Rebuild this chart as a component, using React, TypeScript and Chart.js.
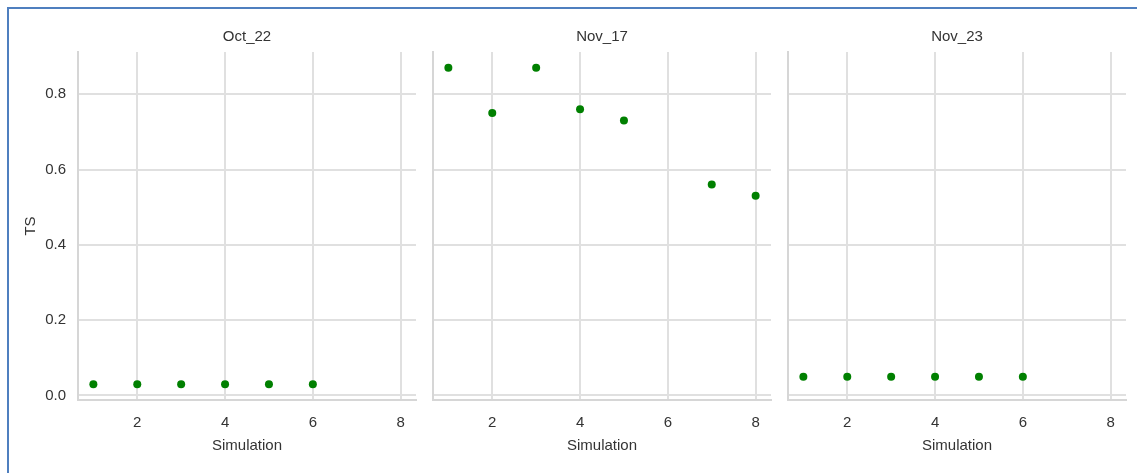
import { useEffect, useRef } from 'react';
import { Chart, registerables } from 'chart.js';

Chart.register(...registerables);

// Facet titles (one per simulation date)
const panelTitles = ['Oct_22', 'Nov_17', 'Nov_23'];

// Threat score per simulation run
const oct22Simulation = [1, 2, 3, 4, 5, 6];
const oct22TS = [0.03, 0.03, 0.03, 0.03, 0.03, 0.03];

const nov17Simulation = [1, 2, 3, 4, 5, 7, 8];
const nov17TS = [0.87, 0.75, 0.87, 0.76, 0.73, 0.56, 0.53];

const nov23Simulation = [1, 2, 3, 4, 5, 6];
const nov23TS = [0.05, 0.05, 0.05, 0.05, 0.05, 0.05];

// Shared axes
const xTickValues = [2, 4, 6, 8];
const yTickValues = [0, 0.2, 0.4, 0.6, 0.8];
const xLimits = [0.65, 8.35];
const yLimits = [-0.012, 0.912];

const FONT = 'Liberation Sans, Arial, sans-serif';
const TEXT_COLOR = '#333333';
const GRID_COLOR = '#e0e0e0';
const SPINE_COLOR = '#d6d6d6';
const POINT_COLOR = '#008000';
const CANVAS_HEIGHT = 473;

type Frame = { left: number; width: number; yAxisWidth: number; padRight: number };

function Facet(props: { title: string; xs: number[]; ys: number[]; showY: boolean; frame: Frame }) {
  const { title, xs, ys, showY, frame } = props;
  const ref = useRef<HTMLCanvasElement | null>(null);

  useEffect(() => {
    if (!ref.current) return;
    const font = { family: FONT, size: 15, weight: 'normal' as const };
    const chart = new Chart(ref.current, {
      type: 'scatter',
      data: {
        datasets: [
          {
            data: xs.map((x, i) => ({ x, y: ys[i] })),
            backgroundColor: POINT_COLOR,
            borderColor: POINT_COLOR,
            borderWidth: 0,
            pointRadius: 4,
            pointHoverRadius: 4,
          },
        ],
      },
      options: {
        animation: false,
        responsive: false,
        events: [],
        layout: { padding: { left: 0, right: frame.padRight, top: 0, bottom: 0 } },
        plugins: {
          legend: { display: false },
          tooltip: { enabled: false },
          title: {
            display: true,
            text: title,
            fullSize: false,
            color: TEXT_COLOR,
            font,
            padding: { top: 28, bottom: 6 },
          },
        },
        scales: {
          x: {
            type: 'linear',
            min: xLimits[0],
            max: xLimits[1],
            afterBuildTicks: (axis: any) => {
              axis.ticks = xTickValues.map((v) => ({ value: v }));
            },
            afterFit: (axis: any) => {
              axis.height = 73;
            },
            grid: { color: GRID_COLOR, lineWidth: 2, drawTicks: false },
            border: { display: true, color: SPINE_COLOR, width: 2 },
            ticks: {
              color: TEXT_COLOR,
              font,
              padding: 14,
              maxRotation: 0,
              callback: (v: any) => String(v),
            },
            title: {
              display: true,
              text: 'Simulation',
              color: TEXT_COLOR,
              font,
              padding: { top: 0, bottom: 18 },
            },
          },
          y: {
            type: 'linear',
            min: yLimits[0],
            max: yLimits[1],
            afterBuildTicks: (axis: any) => {
              axis.ticks = yTickValues.map((v) => ({ value: v }));
            },
            afterFit: (axis: any) => {
              axis.width = frame.yAxisWidth;
            },
            grid: { color: GRID_COLOR, lineWidth: 2, drawTicks: false },
            border: { display: true, color: SPINE_COLOR, width: 2 },
            ticks: {
              display: showY,
              color: TEXT_COLOR,
              font,
              padding: 12,
              callback: (v: any) => Number(v).toFixed(1),
            },
            title: {
              display: showY,
              text: 'TS',
              color: TEXT_COLOR,
              font,
              padding: { top: 22, bottom: 0 },
            },
          },
        },
      },
    } as any);
    return () => chart.destroy();
  }, [title, xs, ys, showY, frame]);

  return (
    <canvas
      ref={ref}
      width={frame.width}
      height={CANVAS_HEIGHT}
      style={{ position: 'absolute', left: frame.left, top: 0, width: frame.width, height: CANVAS_HEIGHT }}
    />
  );
}

const frames: Frame[] = [
  { left: 0, width: 425, yAxisWidth: 78, padRight: 9 },
  { left: 425, width: 355, yAxisWidth: 8, padRight: 9 },
  { left: 780, width: 357, yAxisWidth: 8, padRight: 11 },
];

export default function App() {
  return (
    <div
      style={{
        position: 'absolute',
        left: 0,
        top: 0,
        width: 1137,
        height: 473,
        background: '#ffffff',
        overflow: 'hidden',
      }}
    >
      <div
        style={{
          position: 'absolute',
          left: 7,
          top: 7,
          right: 0,
          bottom: 0,
          borderTop: '2px solid #4f7fbf',
          borderLeft: '2px solid #4f7fbf',
        }}
      />
      <Facet title={panelTitles[0]} xs={oct22Simulation} ys={oct22TS} showY={true} frame={frames[0]} />
      <Facet title={panelTitles[1]} xs={nov17Simulation} ys={nov17TS} showY={false} frame={frames[1]} />
      <Facet title={panelTitles[2]} xs={nov23Simulation} ys={nov23TS} showY={false} frame={frames[2]} />
    </div>
  );
}
